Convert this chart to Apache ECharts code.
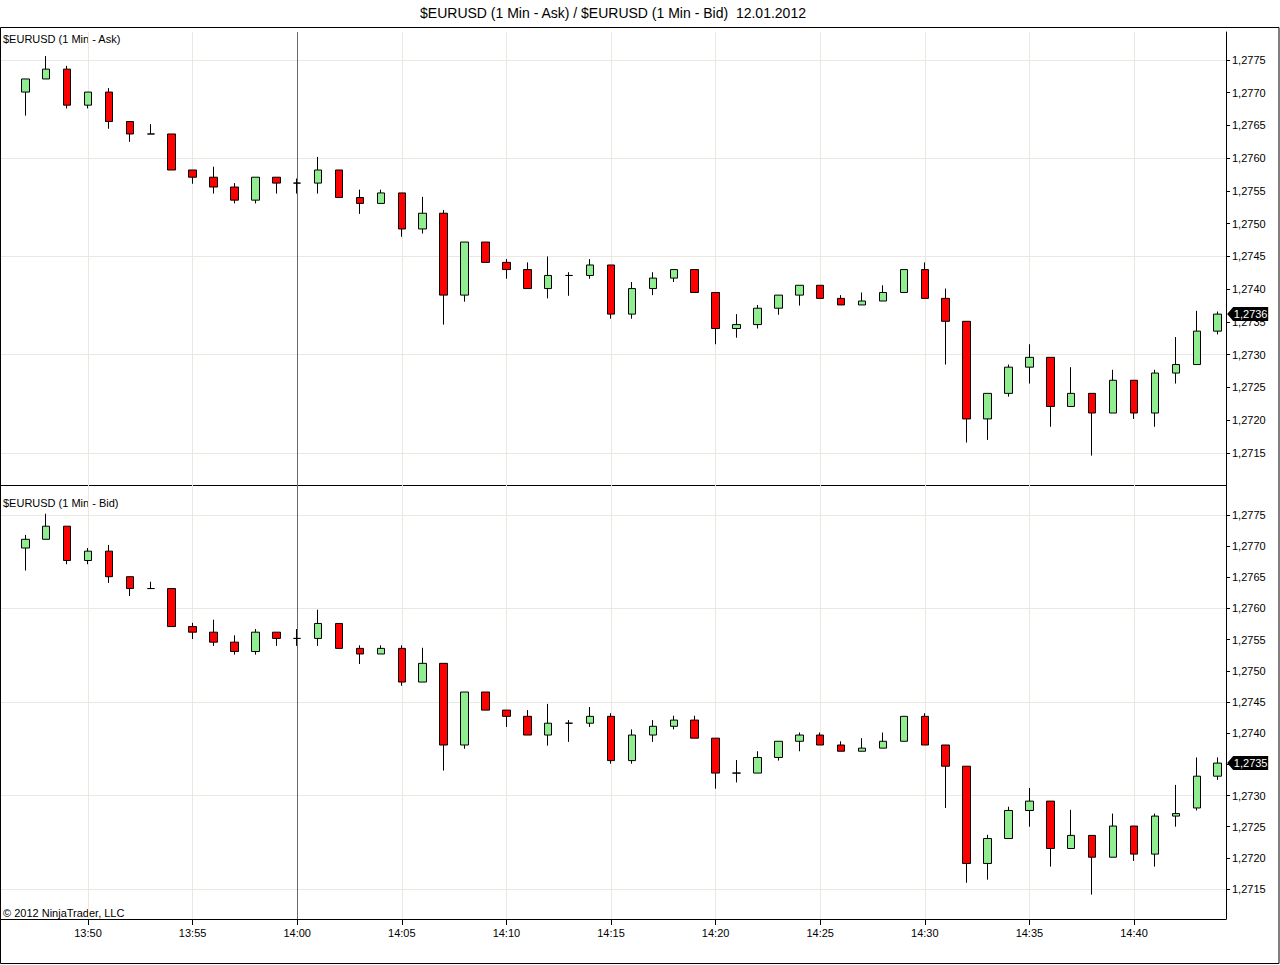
<!DOCTYPE html>
<html><head><meta charset="utf-8">
<script src="https://cdn.jsdelivr.net/npm/echarts@6/dist/echarts.min.js"></script>
<style>html,body{margin:0;padding:0;background:#fff}#c{width:1280px;height:965px}</style>
</head><body><div id="c"></div>
<script>
const times = ['13:47','13:48','13:49','13:50','13:51','13:52','13:53','13:54','13:55','13:56',
'13:57','13:58','13:59','14:00','14:01','14:02','14:03','14:04','14:05','14:06',
'14:07','14:08','14:09','14:10','14:11','14:12','14:13','14:14','14:15','14:16',
'14:17','14:18','14:19','14:20','14:21','14:22','14:23','14:24','14:25','14:26',
'14:27','14:28','14:29','14:30','14:31','14:32','14:33','14:34','14:35','14:36',
'14:37','14:38','14:39','14:40','14:41','14:42','14:43','14:44'];

// [open, close, low, high]
const askOHLC = [
[1.27701,1.27721,1.27665,1.27721],[1.27721,1.27736,1.27721,1.27756],[1.27736,1.27681,1.27676,1.27741],
[1.27681,1.27701,1.27676,1.27701],[1.27701,1.27656,1.27645,1.27707],[1.27656,1.27637,1.27625,1.27656],
[1.27637,1.27637,1.27637,1.27652],[1.27637,1.27582,1.27582,1.27637],[1.27582,1.27571,1.27561,1.27582],
[1.27571,1.27556,1.27546,1.27587],[1.27556,1.27536,1.27531,1.27562],[1.27536,1.27571,1.27531,1.27571],
[1.27571,1.27562,1.27546,1.27571],[1.27562,1.27562,1.27546,1.27569],[1.27562,1.27582,1.27546,1.27602],
[1.27582,1.27540,1.27540,1.27582],[1.27540,1.27531,1.27515,1.27552],[1.27531,1.27547,1.27531,1.27552],
[1.27547,1.27492,1.27480,1.27547],[1.27492,1.27516,1.27485,1.27541],[1.27516,1.27391,1.27346,1.27521],
[1.27391,1.27472,1.27381,1.27472],[1.27472,1.27441,1.27441,1.27472],[1.27441,1.27430,1.27416,1.27446],
[1.27430,1.27401,1.27401,1.27441],[1.27401,1.27421,1.27386,1.27450],[1.27421,1.27421,1.27390,1.27426],
[1.27421,1.27437,1.27416,1.27446],[1.27437,1.27362,1.27355,1.27437],[1.27362,1.27401,1.27355,1.27411],
[1.27401,1.27417,1.27391,1.27426],[1.27417,1.27430,1.27411,1.27430],[1.27430,1.27395,1.27395,1.27430],
[1.27395,1.27340,1.27316,1.27395],[1.27340,1.27346,1.27326,1.27362],[1.27346,1.27371,1.27340,1.27376],
[1.27371,1.27391,1.27361,1.27391],[1.27391,1.27406,1.27375,1.27406],[1.27406,1.27386,1.27386,1.27406],
[1.27386,1.27376,1.27376,1.27391],[1.27376,1.27382,1.27376,1.27395],[1.27382,1.27395,1.27382,1.27406],
[1.27395,1.27430,1.27395,1.27430],[1.27430,1.27386,1.27386,1.27441],[1.27386,1.27351,1.27285,1.27401],
[1.27351,1.27202,1.27166,1.27351],[1.27202,1.27241,1.27170,1.27241],[1.27241,1.27281,1.27236,1.27285],
[1.27281,1.27296,1.27256,1.27316],[1.27296,1.27221,1.27190,1.27296],[1.27221,1.27241,1.27221,1.27281],
[1.27241,1.27211,1.27146,1.27241],[1.27211,1.27261,1.27211,1.27277],[1.27261,1.27211,1.27202,1.27261],
[1.27211,1.27272,1.27190,1.27277],[1.27272,1.27285,1.27256,1.27327],[1.27285,1.27336,1.27285,1.27367],
[1.27336,1.27362,1.27331,1.27366]];

const bidOHLC = [
[1.27697,1.27711,1.27661,1.27718],[1.27711,1.27732,1.27711,1.27752],[1.27732,1.27677,1.27671,1.27732],
[1.27677,1.27692,1.27671,1.27697],[1.27692,1.27651,1.27641,1.27702],[1.27651,1.27632,1.27620,1.27651],
[1.27632,1.27632,1.27632,1.27643],[1.27632,1.27571,1.27571,1.27632],[1.27571,1.27562,1.27551,1.27577],
[1.27562,1.27546,1.27540,1.27582],[1.27546,1.27531,1.27526,1.27557],[1.27531,1.27562,1.27526,1.27567],
[1.27562,1.27552,1.27540,1.27562],[1.27552,1.27552,1.27540,1.27567],[1.27552,1.27576,1.27540,1.27598],
[1.27576,1.27536,1.27536,1.27576],[1.27536,1.27527,1.27511,1.27541],[1.27527,1.27536,1.27527,1.27541],
[1.27536,1.27482,1.27476,1.27541],[1.27482,1.27512,1.27482,1.27537],[1.27512,1.27381,1.27340,1.27512],
[1.27381,1.27466,1.27375,1.27466],[1.27466,1.27437,1.27437,1.27466],[1.27437,1.27427,1.27410,1.27437],
[1.27427,1.27397,1.27397,1.27437],[1.27397,1.27416,1.27380,1.27447],[1.27416,1.27416,1.27386,1.27421],
[1.27416,1.27427,1.27410,1.27442],[1.27427,1.27356,1.27351,1.27432],[1.27356,1.27397,1.27351,1.27406],
[1.27397,1.27411,1.27386,1.27421],[1.27411,1.27421,1.27406,1.27428],[1.27421,1.27392,1.27392,1.27428],
[1.27392,1.27336,1.27311,1.27392],[1.27336,1.27336,1.27321,1.27357],[1.27336,1.27361,1.27336,1.27371],
[1.27361,1.27387,1.27356,1.27387],[1.27387,1.27397,1.27371,1.27401],[1.27397,1.27381,1.27381,1.27401],
[1.27381,1.27371,1.27371,1.27387],[1.27371,1.27376,1.27371,1.27392],[1.27376,1.27387,1.27376,1.27401],
[1.27387,1.27427,1.27387,1.27427],[1.27427,1.27381,1.27381,1.27432],[1.27381,1.27347,1.27280,1.27381],
[1.27347,1.27191,1.27160,1.27347],[1.27191,1.27231,1.27165,1.27237],[1.27231,1.27276,1.27231,1.27282],
[1.27276,1.27291,1.27250,1.27312],[1.27291,1.27215,1.27186,1.27291],[1.27215,1.27236,1.27215,1.27277],
[1.27236,1.27201,1.27141,1.27236],[1.27201,1.27251,1.27201,1.27271],[1.27251,1.27206,1.27195,1.27251],
[1.27206,1.27267,1.27186,1.27271],[1.27267,1.27271,1.27250,1.27317],[1.27280,1.27331,1.27276,1.27361],
[1.27331,1.27352,1.27325,1.27361]];

const timeTicks = ['13:50','13:55','14:00','14:05','14:10','14:15','14:20','14:25','14:30','14:35','14:40'];
const priceTicks = [1.2715,1.2720,1.2725,1.2730,1.2735,1.2740,1.2745,1.2750,1.2755,1.2760,1.2765,1.2770,1.2775];
const gridPrices = [1.2715,1.2730,1.2745,1.2760,1.2775];
const cursorTime = '14:00';

const titleText = '$EURUSD (1 Min - Ask) / $EURUSD (1 Min - Bid)  12.01.2012';
const askLabel = '$EURUSD (1 Min - Ask)';
const bidLabel = '$EURUSD (1 Min - Bid)';
const copyright = '\u00A9 2012 NinjaTrader, LLC';

const FONT = '"Liberation Sans", Arial, sans-serif';
const toMin = s => { const p = s.split(':').map(Number); return p[0] * 60 + p[1]; };
const fromMin = m => { m = Math.round(m); const h = Math.floor(m / 60), mm = m % 60; return h + ':' + (mm < 10 ? '0' : '') + mm; };
const fmtPrice = v => v.toFixed(4).replace('.', ',');

const X_MIN = 825.793, X_MAX = 884.398;
const GRID_COLOR = '#ebe8e1';

function gridSeries(idx) {
  // empty helper series carrying the background grid lines
  return {
    type: 'line', xAxisIndex: idx, yAxisIndex: idx, data: [], silent: true, z: 1,
    markLine: {
      silent: true, z: 1, precision: 6, symbol: ['none', 'none'], animation: false,
      label: { show: false },
      lineStyle: { color: GRID_COLOR, type: 'solid', width: 1 },
      emphasis: { disabled: true },
      data: gridPrices.map(v => ({ yAxis: v }))
        .concat(timeTicks.map(t => ({ xAxis: toMin(t) })))
        .concat([{ xAxis: toMin(cursorTime), lineStyle: { color: '#6a6a6a', type: 'solid', width: 1 } }])
    }
  };
}

function candleSeries(idx, ohlc) {
  const last = ohlc[ohlc.length - 1][1];
  return {
    type: 'candlestick', xAxisIndex: idx, yAxisIndex: idx, z: 3,
    data: times.map((t, i) => [toMin(t)].concat(ohlc[i])),
    encode: { x: 0, y: [1, 2, 3, 4] },
    barWidth: 8,
    silent: true,
    itemStyle: { color: '#90EE90', color0: '#FF0000', borderColor: '#000', borderColor0: '#000', borderColorDoji: '#000', borderWidth: 1 },
    markPoint: {
      silent: true, animation: false, z: 6,
      symbol: 'path://M0,7L6,0L41,0L41,14L6,14Z',
      symbolSize: [41, 14], symbolOffset: [30, 0],
      itemStyle: { color: '#000' },
      label: { show: true, position: 'inside', color: '#fff', fontSize: 11, fontFamily: FONT, offset: [3, 0], formatter: () => fmtPrice(last) },
      data: [{ coord: [toMin(times[times.length - 1]), last], value: last }]
    }
  };
}

function yAxisCfg(idx, min, max) {
  return {
    gridIndex: idx, type: 'value', position: 'right', min: min, max: max, scale: true,
    axisLine: { show: true, lineStyle: { color: '#000', width: 1 } },
    axisTick: { show: true, length: 4, customValues: priceTicks, lineStyle: { color: '#000' } },
    axisLabel: { show: true, customValues: priceTicks, formatter: v => fmtPrice(v), color: '#000', fontSize: 11, fontFamily: FONT, margin: 6 },
    splitLine: { show: false }
  };
}

const chart = echarts.init(document.getElementById('c'), null, { renderer: 'svg' });
chart.setOption({
  animation: false,
  backgroundColor: '#fff',
  grid: [
    { left: 0, top: 32, width: 1226, height: 453 },
    { left: 0, top: 485, width: 1226, height: 434 }
  ],
  xAxis: [
    { gridIndex: 0, type: 'value', min: X_MIN, max: X_MAX,
      axisLine: { show: true, onZero: false, lineStyle: { color: '#000' } },
      axisTick: { show: false }, axisLabel: { show: false }, splitLine: { show: false } },
    { gridIndex: 1, type: 'value', min: X_MIN, max: X_MAX,
      axisLine: { show: true, onZero: false, lineStyle: { color: '#000' } },
      axisTick: { show: true, length: 6, customValues: timeTicks.map(toMin), lineStyle: { color: '#000' } },
      axisLabel: { show: true, customValues: timeTicks.map(toMin), formatter: v => fromMin(v), color: '#000', fontSize: 11, fontFamily: FONT, margin: 8 },
      splitLine: { show: false } }
  ],
  yAxis: [
    yAxisCfg(0, 1.271011, 1.277927),
    yAxisCfg(1, 1.271019, 1.277981)
  ],
  series: [gridSeries(0), gridSeries(1), candleSeries(0, askOHLC), candleSeries(1, bidOHLC)],
  graphic: [
    { type: 'rect', silent: true, shape: { x: 0.5, y: 27.5, width: 1278.5, height: 936 }, style: { fill: 'none', stroke: '#000', lineWidth: 1 }, z: 10 },
    { type: 'text', silent: true, x: 613, y: 13, style: { text: titleText, textAlign: 'center', textVerticalAlign: 'middle', font: '14px ' + FONT, fill: '#000' } },
    { type: 'text', silent: true, x: 3, y: 39, style: { text: askLabel, textAlign: 'left', textVerticalAlign: 'middle', font: '11px ' + FONT, fill: '#000' } },
    { type: 'text', silent: true, x: 3, y: 503, style: { text: bidLabel, textAlign: 'left', textVerticalAlign: 'middle', font: '11px ' + FONT, fill: '#000' } },
    { type: 'text', silent: true, x: 3, y: 913, style: { text: copyright, textAlign: 'left', textVerticalAlign: 'middle', font: '11px ' + FONT, fill: '#000' } }
  ]
});
</script>
</body></html>
